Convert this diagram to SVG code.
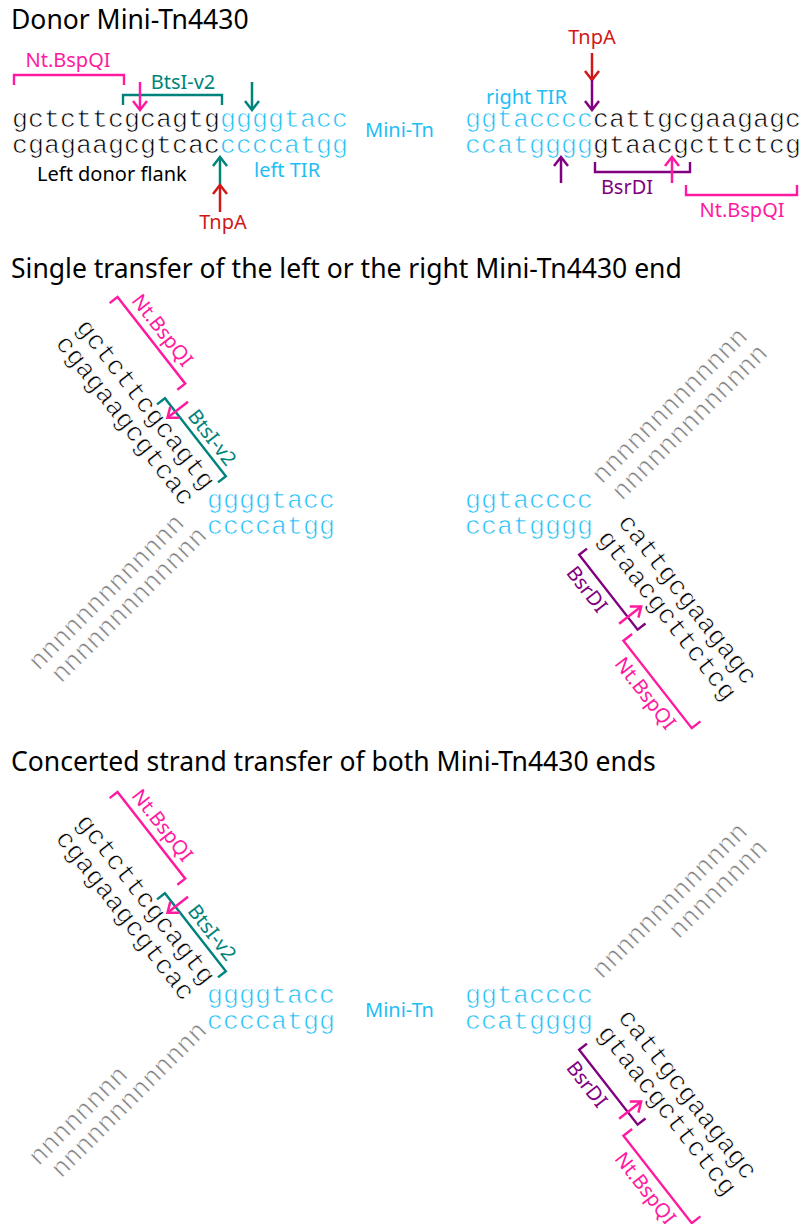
<svg xmlns="http://www.w3.org/2000/svg" width="802" height="1224" viewBox="0 0 802 1224">
<style>
text{font-family:"Noto Sans","Open Sans","DejaVu Sans",sans-serif}
.title{font-size:26.5px;fill:#000}
.lab{font-size:20px}
.seq{font-family:"Liberation Mono","Courier New",monospace;font-size:26.67px;stroke:#fff;stroke-width:0.7px;paint-order:normal}
.k{fill:#000}.b{fill:#1ebef5}.g{fill:#7f7f7f}
.tpk{fill:#ff1aa0}.tte{fill:#00837b}.tpu{fill:#800080}.tre{fill:#d01818}
.br{fill:none;stroke-width:2.4}
.ar{fill:none;stroke-width:2.5}
.pk{stroke:#ff1aa0}.te{stroke:#00837b}.pu{stroke:#800080}.re{stroke:#d01818}
.mid{text-anchor:middle}
</style>
<defs>
<marker id="hpk" viewBox="-12 -10 14 20" markerWidth="14" markerHeight="20" refX="0" refY="0" orient="auto" markerUnits="userSpaceOnUse"><path d="M-9,-7 L0,0 L-9,7" fill="none" stroke="#ff1aa0" stroke-width="2.5"/></marker>
<marker id="hte" viewBox="-12 -10 14 20" markerWidth="14" markerHeight="20" refX="0" refY="0" orient="auto" markerUnits="userSpaceOnUse"><path d="M-9,-7 L0,0 L-9,7" fill="none" stroke="#00837b" stroke-width="2.5"/></marker>
<marker id="hpu" viewBox="-12 -10 14 20" markerWidth="14" markerHeight="20" refX="0" refY="0" orient="auto" markerUnits="userSpaceOnUse"><path d="M-9,-7 L0,0 L-9,7" fill="none" stroke="#800080" stroke-width="2.5"/></marker>
<marker id="hre" viewBox="-12 -10 14 20" markerWidth="14" markerHeight="20" refX="0" refY="0" orient="auto" markerUnits="userSpaceOnUse"><path d="M-9,-7 L0,0 L-9,7" fill="none" stroke="#d01818" stroke-width="2.5"/></marker>
</defs>

<!-- ===== Section 1 ===== -->
<g id="title-donor"><text class="title" x="11" y="29">Donor Mini-Tn4430</text></g>

<g id="left-donor-flank">
<text class="seq k" x="12" y="127">gctcttcgcagtg</text>
<text class="seq k" x="12" y="153">cgagaagcgtcac</text>
<text class="lab k" x="37" y="181">Left donor flank</text>
</g>
<g id="left-tir">
<text class="seq b" x="220" y="127">ggggtacc</text>
<text class="seq b" x="220" y="153">ccccatgg</text>
<text class="lab b" x="254" y="177">left TIR</text>
</g>
<g id="mini-tn-1"><text class="lab b" x="365" y="137">Mini-Tn</text></g>
<g id="right-tir">
<text class="seq b" x="465" y="127">ggtacccc</text>
<text class="seq b" x="465" y="153">ccatgggg</text>
<text class="lab b" x="486" y="104">right TIR</text>
</g>
<g id="right-donor-flank">
<text class="seq k" x="593" y="127">cattgcgaagagc</text>
<text class="seq k" x="593" y="153">gtaacgcttctcg</text>
</g>
<g id="sites-1">
<path class="br pk" d="M14,85 V75 H124 V85"/>
<text class="lab tpk mid" x="68" y="67">Nt.BspQI</text>
<path class="br te" d="M123,105 V95 H222 V105"/>
<text class="lab tte mid" x="183" y="89">BtsI-v2</text>
<text class="lab tre mid" x="223" y="229">TnpA</text>
<text class="lab tre mid" x="592" y="44">TnpA</text>
<path class="br pu" d="M595,162 V172 H690 V162"/>
<text class="lab tpu mid" x="627" y="194">BsrDI</text>
<path class="br pk" d="M686,185 V195 H797 V185"/>
<text class="lab tpk mid" x="742" y="217">Nt.BspQI</text>
</g>
<g id="connectors-1">
<line class="ar pk" x1="140" y1="82" x2="140" y2="110" marker-end="url(#hpk)"/>
<line class="ar te" x1="252" y1="82" x2="252" y2="110" marker-end="url(#hte)"/>
<line class="ar te" x1="220" y1="185" x2="220" y2="157" marker-end="url(#hte)"/>
<line class="ar re" x1="220" y1="212" x2="220" y2="185" marker-end="url(#hre)"/>
<line class="ar re" x1="592" y1="53" x2="592" y2="80" marker-end="url(#hre)"/>
<line class="ar pu" x1="592" y1="80" x2="592" y2="110" marker-end="url(#hpu)"/>
<line class="ar pu" x1="561" y1="183" x2="561" y2="157" marker-end="url(#hpu)"/>
<line class="ar pk" x1="672" y1="183" x2="672" y2="157" marker-end="url(#hpk)"/>
</g>

<!-- ===== Section 2 ===== -->
<g id="title-single"><text class="title" x="11" y="278">Single transfer of the left or the right Mini-Tn4430 end</text></g>

<g id="s2-left-flank" transform="translate(75.3,327.4) rotate(52) translate(-12,-127)">
<text class="seq k" x="12" y="127">gctcttcgcagtg</text>
<text class="seq k" x="12" y="153">cgagaagcgtcac</text>
<path class="br pk" d="M14,85 V75 H124 V85"/>
<text class="lab tpk mid" x="68" y="67">Nt.BspQI</text>
<path class="br te" d="M123,110 V100 H222 V110"/>
<text class="lab tte mid" x="183" y="94">BtsI-v2</text>
<line class="ar pk" x1="140" y1="84" x2="140" y2="110" marker-end="url(#hpk)"/>
</g>
<g id="s2-left-tir">
<text class="seq b" x="207" y="508">ggggtacc</text>
<text class="seq b" x="207" y="534">ccccatgg</text>
</g>
<g id="s2-left-target">
<text class="seq g mid" transform="translate(108.4,594.2) rotate(-45)" y="5.5">nnnnnnnnnnnnn</text>
<text class="seq g mid" transform="translate(130.9,606.7) rotate(-45)" y="5.5">nnnnnnnnnnnnn</text>
</g>
<g id="s2-right-tir">
<text class="seq b" x="465" y="508">ggtacccc</text>
<text class="seq b" x="465" y="534">ccatgggg</text>
</g>
<g id="s2-right-target">
<text class="seq g mid" transform="translate(671.7,407.5) rotate(-45)" y="5.5">nnnnnnnnnnnnn</text>
<text class="seq g mid" transform="translate(691.7,424.2) rotate(-45)" y="5.5">nnnnnnnnnnnnn</text>
</g>
<g id="s2-right-flank" transform="translate(617.3,522.4) rotate(52) translate(-593,-127)">
<text class="seq k" x="593" y="127">cattgcgaagagc</text>
<text class="seq k" x="593" y="153">gtaacgcttctcg</text>
<path class="br pu" d="M595,167 V177 H690 V167"/>
<text class="lab tpu mid" x="627" y="199">BsrDI</text>
<line class="ar pk" x1="674" y1="188" x2="674" y2="160" marker-end="url(#hpk)"/>
<path class="br pk" d="M690,184 V195 H801 V184"/>
<text class="lab tpk mid" x="745" y="217">Nt.BspQI</text>
</g>

<!-- ===== Section 3 ===== -->
<g id="title-concerted"><text class="title" x="11" y="771">Concerted strand transfer of both Mini-Tn4430 ends</text></g>

<g id="s3-left-flank" transform="translate(75.3,822.4) rotate(52) translate(-12,-127)">
<text class="seq k" x="12" y="127">gctcttcgcagtg</text>
<text class="seq k" x="12" y="153">cgagaagcgtcac</text>
<path class="br pk" d="M14,85 V75 H124 V85"/>
<text class="lab tpk mid" x="68" y="67">Nt.BspQI</text>
<path class="br te" d="M123,110 V100 H222 V110"/>
<text class="lab tte mid" x="183" y="94">BtsI-v2</text>
<line class="ar pk" x1="140" y1="84" x2="140" y2="110" marker-end="url(#hpk)"/>
</g>
<g id="s3-left-tir">
<text class="seq b" x="207" y="1003">ggggtacc</text>
<text class="seq b" x="207" y="1029">ccccatgg</text>
</g>
<g id="s3-left-target">
<text class="seq g" transform="translate(108.4,1089.2) rotate(-45)" x="-104" y="5.5">nnnnnnnn</text>
<text class="seq g mid" transform="translate(130.9,1101.7) rotate(-45)" y="5.5">nnnnnnnnnnnnn</text>
</g>
<g id="mini-tn-3"><text class="lab b" x="365" y="1017">Mini-Tn</text></g>
<g id="s3-right-tir">
<text class="seq b" x="465" y="1003">ggtacccc</text>
<text class="seq b" x="465" y="1029">ccatgggg</text>
</g>
<g id="s3-right-target">
<text class="seq g mid" transform="translate(671.7,902.5) rotate(-45)" y="5.5">nnnnnnnnnnnnn</text>
<text class="seq g" transform="translate(691.7,919.2) rotate(-45)" x="104" y="5.5" text-anchor="end">nnnnnnnn</text>
</g>
<g id="s3-right-flank" transform="translate(617.3,1017.4) rotate(52) translate(-593,-127)">
<text class="seq k" x="593" y="127">cattgcgaagagc</text>
<text class="seq k" x="593" y="153">gtaacgcttctcg</text>
<path class="br pu" d="M595,167 V177 H690 V167"/>
<text class="lab tpu mid" x="627" y="199">BsrDI</text>
<line class="ar pk" x1="674" y1="188" x2="674" y2="160" marker-end="url(#hpk)"/>
<path class="br pk" d="M690,184 V195 H801 V184"/>
<text class="lab tpk mid" x="745" y="217">Nt.BspQI</text>
</g>
</svg>
